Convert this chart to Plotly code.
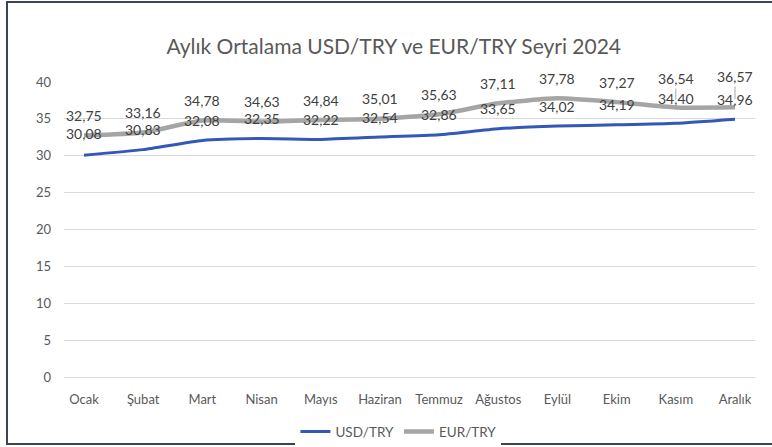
import plotly.graph_objects as go

months = ["Ocak", "Şubat", "Mart", "Nisan", "Mayıs", "Haziran", "Temmuz",
          "Ağustos", "Eylül", "Ekim", "Kasım", "Aralık"]
usd_try = [30.08, 30.83, 32.08, 32.35, 32.22, 32.54, 32.86, 33.65, 34.02, 34.19, 34.40, 34.96]
eur_try = [32.75, 33.16, 34.78, 34.63, 34.84, 35.01, 35.63, 37.11, 37.78, 37.27, 36.54, 36.57]
y_ticks = [0, 5, 10, 15, 20, 25, 30, 35, 40]

BLUE = "#3358B8"
GRAY = "#A5A5A5"
FONT = "Lato, 'Open Sans', sans-serif"

# label offsets (pixels above point); a few labels were moved in the original
DEFAULT_SHIFT = 20
SHIFT_OVERRIDES = {("USD/TRY", "Ocak"): 22, ("USD/TRY", "Kasım"): 25}
LEADER_LABELS = {("EUR/TRY", "Kasım"): 29, ("EUR/TRY", "Aralık"): 31}

def fmt(v):
    return f"{v:.2f}".replace(".", ",")

fig = go.Figure()
fig.add_trace(go.Scatter(x=months, y=usd_try, name="USD/TRY", mode="lines",
                         line=dict(color=BLUE, width=3, shape="spline", smoothing=0.5)))
fig.add_trace(go.Scatter(x=months, y=eur_try, name="EUR/TRY", mode="lines",
                         line=dict(color=GRAY, width=4.5, shape="spline", smoothing=0.5)))

label_font = dict(family=FONT, size=14, color="#404040")
annotations = []
for name, series in (("USD/TRY", usd_try), ("EUR/TRY", eur_try)):
    for m, v in zip(months, series):
        key = (name, m)
        if key in LEADER_LABELS:
            annotations.append(dict(x=m, y=v, text=fmt(v), showarrow=True, arrowhead=0,
                                    arrowwidth=1, arrowcolor=GRAY, ax=0,
                                    ay=-LEADER_LABELS[key], standoff=8, font=label_font))
        else:
            annotations.append(dict(x=m, y=v, text=fmt(v), showarrow=False,
                                    yshift=SHIFT_OVERRIDES.get(key, DEFAULT_SHIFT),
                                    font=label_font))

fig.update_layout(
    width=772, height=447,
    margin=dict(l=64, r=17, t=82, b=70, autoexpand=False),
    paper_bgcolor="white", plot_bgcolor="white",
    title=dict(text="Aylık Ortalama USD/TRY ve EUR/TRY Seyri 2024", x=0.51, xanchor="center",
               y=0.895, yanchor="middle", font=dict(family=FONT, size=21, color="#595959")),
    font=dict(family=FONT, color="#595959", size=13),
    showlegend=True,
    legend=dict(orientation="h", x=0.484, xanchor="center", yref="container", y=0.034,
                yanchor="middle", font=dict(size=13.5, color="#595959"), itemwidth=30),
    annotations=annotations,
    xaxis=dict(showgrid=False, showline=True, linecolor="#d9d9d9", linewidth=1,
               ticks="", ticklabelstandoff=10, automargin=False,
               tickfont=dict(size=13, color="#595959")),
    yaxis=dict(range=[0, 40], tickvals=y_ticks, showgrid=True, gridcolor="#d9d9d9",
               gridwidth=1, zeroline=False, ticks="", showline=False,
               ticklabelstandoff=12, automargin=False,
               tickfont=dict(size=13, color="#595959")),
    shapes=[dict(type="rect", xref="paper", yref="paper",
                 x0=(7 - 64) / 691, x1=(778 - 64) / 691,
                 y0=(377 - 444) / 295, y1=(377 - 2) / 295,
                 line=dict(color="#3c4450", width=2), fillcolor="rgba(0,0,0,0)", layer="below")],
)

fig.write_html("out.html", config={"displayModeBar": False},
               post_script="document.body.style.margin='0';")
